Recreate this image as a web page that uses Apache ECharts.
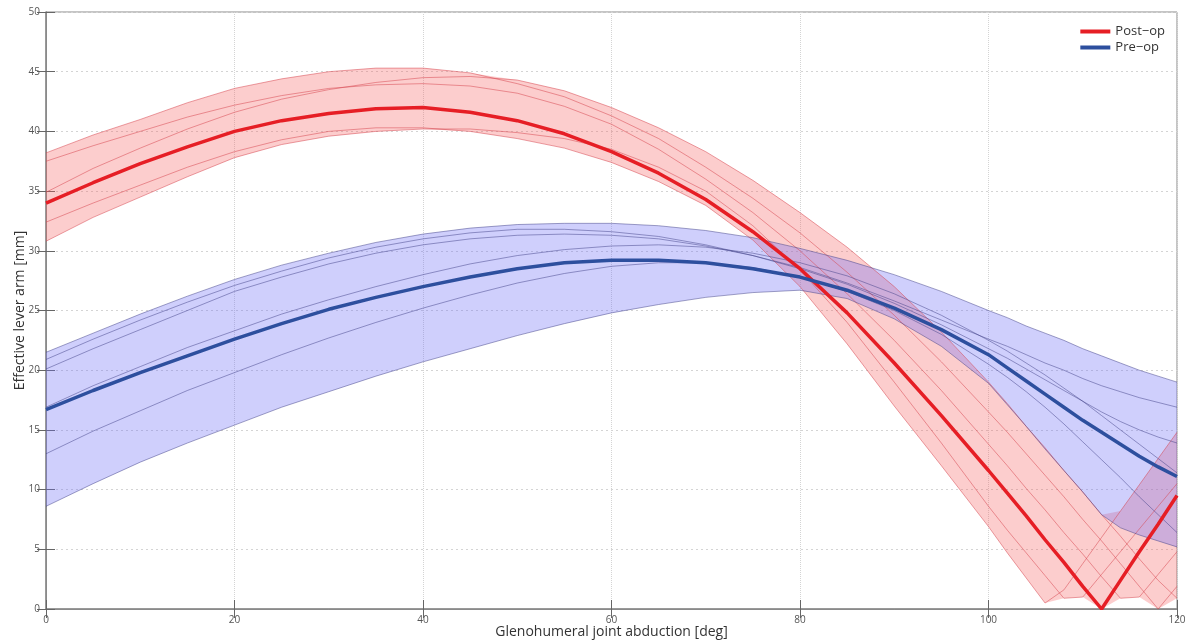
<!DOCTYPE html>
<html>
<head>
<meta charset="utf-8">
<script src="https://cdn.jsdelivr.net/npm/echarts@6/dist/echarts.min.js"></script>
<style>
  html, body { margin: 0; padding: 0; background: #fff; }
  #chart { width: 1186px; height: 644px; }
</style>
</head>
<body>
<div id="chart"></div>
<script>
// abduction angles (deg) that every curve is sampled at
var deg = [0, 5, 10, 15, 20, 25, 30, 35, 40, 45, 50, 55, 60, 65, 70, 75, 80, 85, 90, 95, 100,
  102, 104, 106, 108, 110, 112, 114, 116, 118, 120];

// post-op: mean and individual subjects (effective lever arm, mm)
var postMean = [34.0, 35.7, 37.3, 38.7, 40.0, 40.9, 41.5, 41.9, 42.0, 41.6, 40.9, 39.8, 38.3, 36.5, 34.3, 31.6, 28.5, 24.8, 20.6, 16.2, 11.6,
  9.7, 7.8, 5.8, 3.9, 1.9, 0.0, 2.4, 4.8, 7.1, 9.5];
var postA = [32.4, 34.0, 35.5, 37.0, 38.3, 39.3, 40.0, 40.3, 40.3, 40.0, 39.4, 38.6, 37.4, 35.8, 33.8, 30.9, 27.0, 22.2, 17.0, 12.0, 6.9,
  4.7, 2.6, 0.5, 1.6, 3.8, 6.0, 8.2, 10.4, 12.6, 14.8];
var postB = [30.8, 32.8, 34.5, 36.2, 37.8, 38.9, 39.6, 40.0, 40.2, 40.2, 39.9, 39.4, 38.5, 37.0, 35.0, 32.1, 28.4, 24.0, 19.0, 13.9, 8.6,
  6.6, 4.7, 2.8, 0.9, 1.0, 2.9, 4.8, 6.7, 8.6, 10.5];
var postC = [37.5, 38.8, 40.0, 41.2, 42.2, 43.0, 43.6, 43.9, 44.0, 43.8, 43.2, 42.1, 40.6, 38.5, 36.0, 33.2, 30.0, 26.4, 22.5, 18.3, 13.8,
  12.0, 10.1, 8.3, 6.4, 4.6, 2.7, 0.9, 1.0, 2.9, 4.8];
var postD = [38.2, 39.7, 41.0, 42.4, 43.6, 44.4, 45.0, 45.3, 45.3, 44.9, 44.0, 42.9, 41.3, 39.4, 37.0, 34.4, 31.5, 28.2, 24.6, 20.7, 16.5,
  14.8, 13.0, 11.2, 9.4, 7.5, 5.7, 3.8, 1.9, 0.0, 1.9];
var postE = [34.9, 36.9, 38.6, 40.2, 41.6, 42.7, 43.5, 44.1, 44.5, 44.6, 44.3, 43.4, 42.0, 40.3, 38.3, 35.9, 33.2, 30.3, 27.0, 23.2, 19.0,
  17.2, 15.3, 13.5, 11.6, 9.8, 7.9, 6.1, 4.2, 2.4, 0.9];

// pre-op: mean and individual subjects
var preMean = [16.7, 18.3, 19.8, 21.2, 22.6, 23.9, 25.1, 26.1, 27.0, 27.8, 28.5, 29.0, 29.2, 29.2, 29.0, 28.5, 27.8, 26.7, 25.2, 23.4, 21.3,
  20.2, 19.1, 18.0, 16.9, 15.8, 14.8, 13.8, 12.8, 11.9, 11.1];
var pre1 = [21.5, 23.1, 24.7, 26.2, 27.6, 28.8, 29.8, 30.7, 31.4, 31.9, 32.2, 32.3, 32.3, 32.1, 31.7, 31.1, 30.2, 29.2, 28.0, 26.6, 25.0,
  24.4, 23.7, 23.1, 22.5, 21.8, 21.2, 20.6, 20.0, 19.5, 19.0];
var pre2 = [20.9, 22.6, 24.2, 25.7, 27.1, 28.3, 29.4, 30.3, 31.0, 31.5, 31.8, 31.8, 31.6, 31.2, 30.5, 29.6, 28.6, 27.3, 25.8, 24.2, 22.6,
  22.0, 21.3, 20.6, 20.0, 19.3, 18.7, 18.2, 17.7, 17.3, 16.9];
var pre3 = [20.1, 21.8, 23.4, 25.0, 26.6, 27.8, 28.9, 29.8, 30.5, 31.0, 31.3, 31.4, 31.3, 31.0, 30.4, 29.6, 28.5, 27.2, 25.6, 23.8, 21.8,
  21.0, 20.1, 19.2, 18.3, 17.4, 16.5, 15.7, 15.0, 14.4, 13.9];
var pre4 = [13.0, 14.9, 16.6, 18.3, 19.8, 21.3, 22.7, 24.0, 25.2, 26.3, 27.3, 28.1, 28.7, 29.0, 29.0, 28.6, 27.8, 26.6, 25.0, 23.0, 20.5,
  19.4, 18.2, 16.9, 15.5, 14.0, 12.5, 11.0, 9.4, 7.9, 6.4];
var pre5 = [8.6, 10.5, 12.3, 13.9, 15.4, 16.9, 18.2, 19.5, 20.7, 21.8, 22.9, 23.9, 24.8, 25.5, 26.1, 26.5, 26.7, 26.0, 24.3, 22.0, 18.9,
  17.1, 15.3, 13.4, 11.6, 9.8, 7.9, 6.8, 6.2, 5.7, 5.2];
var pre6 = [16.9, 18.7, 20.3, 21.9, 23.3, 24.7, 25.9, 27.0, 28.0, 28.9, 29.6, 30.1, 30.4, 30.5, 30.3, 29.8, 29.0, 27.9, 26.4, 24.6, 22.5,
  21.6, 20.6, 19.6, 18.5, 17.4, 16.2, 15.0, 13.8, 12.6, 11.4];

var postSubjects = [postA, postB, postC, postD, postE];
var preSubjects = [pre1, pre2, pre3, pre4, pre5, pre6];

function pairs(vals) {
  return deg.map(function (d, i) { return [d, vals[i]]; });
}

// band = range spanned by the curves at each angle
function envelope(list, fn) {
  return deg.map(function (d, i) {
    return fn.apply(null, list.map(function (s) { return s[i]; }));
  });
}

function bandSeries(list, color, z) {
  var hi = envelope(list, Math.max);
  var lo = envelope(list, Math.min);
  return {
    type: "custom",
    silent: true,
    z: z,
    data: [[0, 0]],
    renderItem: function (params, api) {
      var pts = [];
      for (var i = 0; i < deg.length; i++) pts.push(api.coord([deg[i], hi[i]]));
      for (var j = deg.length - 1; j >= 0; j--) pts.push(api.coord([deg[j], lo[j]]));
      return { type: "polygon", shape: { points: pts }, style: { fill: color } };
    },
  };
}

function thinLine(vals, color) {
  return {
    type: "line",
    data: pairs(vals),
    showSymbol: false,
    silent: true,
    z: 3,
    lineStyle: { color: color, width: 0.8 },
  };
}

var series = [];
series.push(bandSeries(postSubjects.concat([postMean]), "rgba(245,90,90,0.30)", 1));
series.push(bandSeries(preSubjects.concat([preMean]), "rgba(110,110,245,0.33)", 2));
postSubjects.forEach(function (s) { series.push(thinLine(s, "rgba(215,70,80,0.65)")); });
preSubjects.forEach(function (s) { series.push(thinLine(s, "rgba(60,60,130,0.6)")); });
series.push({
  name: "Post−op",
  type: "line",
  data: pairs(postMean),
  showSymbol: false,
  z: 5,
  color: "#e61e25",
  lineStyle: { color: "#e61e25", width: 3.5 },
});
series.push({
  name: "Pre−op",
  type: "line",
  data: pairs(preMean),
  showSymbol: false,
  z: 5,
  color: "#2d4f9e",
  lineStyle: { color: "#2d4f9e", width: 3.5 },
});

var axisGray = "#8a8a8a";
var labelFont = { color: "#555", fontSize: 10, fontFamily: "Open Sans" };

var myChart = echarts.init(document.getElementById("chart"));
myChart.setOption({
  animation: false,
  backgroundColor: "#fff",
  grid: {
    left: 46, right: 9, top: 12, bottom: 35,
    outerBoundsMode: "none",
    show: true, borderColor: axisGray, borderWidth: 1,
  },
  legend: {
    data: ["Post−op", "Pre−op"],
    orient: "vertical",
    right: 16,
    top: 20,
    itemGap: 3,
    itemWidth: 30,
    itemHeight: 4,
    icon: "rect",
    textStyle: { color: "#333", fontSize: 13, fontFamily: "Open Sans" },
  },
  xAxis: [
    {
      type: "value",
      min: 0,
      max: 120,
      interval: 20,
      name: "Glenohumeral joint abduction [deg]",
      nameLocation: "middle",
      nameGap: 16,
      nameMoveOverlap: false,
      nameTextStyle: { color: "#333", fontSize: 14, fontFamily: "Open Sans" },
      axisLine: { lineStyle: { color: axisGray, width: 1.5 } },
      axisTick: { inside: true, length: 9, lineStyle: { color: "#666" } },
      axisLabel: Object.assign({ margin: 6 }, labelFont),
      splitLine: { show: true, lineStyle: { color: "#d4d4d4", type: "dotted" } },
    },
    {
      type: "value",
      position: "top",
      min: 0,
      max: 120,
      interval: 20,
      axisLine: { lineStyle: { color: axisGray } },
      axisTick: { inside: true, length: 9, lineStyle: { color: "#666" } },
      axisLabel: { show: false },
      splitLine: { show: false },
    },
  ],
  yAxis: [
    {
      type: "value",
      min: 0,
      max: 50,
      interval: 5,
      name: "Effective lever arm [mm]",
      nameLocation: "middle",
      nameGap: 19,
      nameMoveOverlap: false,
      nameTextStyle: { color: "#333", fontSize: 14, fontFamily: "Open Sans" },
      axisLine: { lineStyle: { color: axisGray, width: 1.5 } },
      axisTick: { inside: true, length: 9, lineStyle: { color: "#666" } },
      axisLabel: Object.assign({ margin: 6 }, labelFont),
      splitLine: { show: true, lineStyle: { color: "#d4d4d4", type: [2, 3] } },
    },
    {
      type: "value",
      position: "right",
      min: 0,
      max: 50,
      interval: 5,
      axisLine: { lineStyle: { color: axisGray } },
      axisTick: { inside: true, length: 9, lineStyle: { color: "#666" } },
      axisLabel: { show: false },
      splitLine: { show: false },
    },
  ],
  series: series,
});
</script>
</body>
</html>
